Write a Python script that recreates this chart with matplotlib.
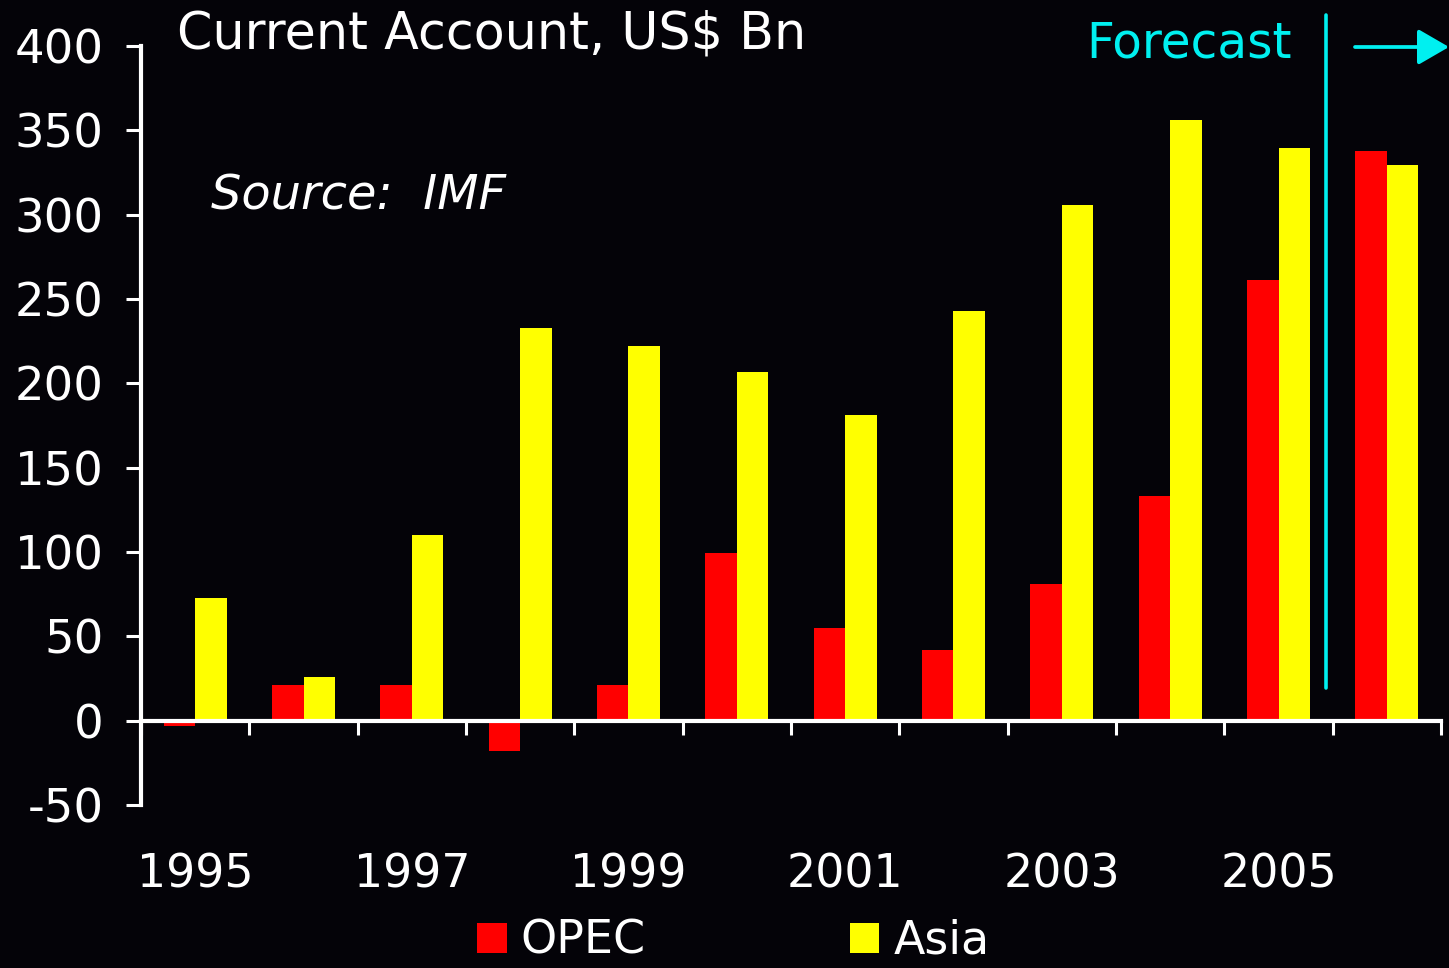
import matplotlib
matplotlib.use('Agg')
import matplotlib.pyplot as plt
import numpy as np

# ----------------- Data -----------------
years = list(range(1995, 2007))
opec = [-3, 21, 21, -18, 21, 99.5, 55, 42, 81, 133, 261, 337.5]
asia = [73, 26, 110, 233, 222, 207, 181, 243, 306, 356, 339.5, 329.5]
year_labels = [str(y) if (y - 1995) % 2 == 0 else "" for y in years]
yticks = [-50, 0, 50, 100, 150, 200, 250, 300, 350, 400]

BG = '#040308'
RED = '#FF0000'
YELLOW = '#FFFF00'
CYAN = '#00F0F0'

W, H = 1449, 968
fig = plt.figure(figsize=(W / 100, H / 100), dpi=100, facecolor=BG)
ax = fig.add_axes([141 / W, (H - 805) / H, 1300 / W, (805 - 46) / H])
ax.set_facecolor(BG)

x = np.arange(len(years))
bw = 0.29
ax.bar(x - bw / 2, opec, width=bw, color=RED, label='OPEC', zorder=2)
ax.bar(x + bw / 2, asia, width=bw, color=YELLOW, label='Asia', zorder=2)

ax.set_xlim(-0.5, len(years) - 0.5)
ax.set_ylim(-50, 400)

# spines
for s in ['top', 'right']:
    ax.spines[s].set_visible(False)
ax.spines['bottom'].set_position(('data', 0))
ax.spines['bottom'].set_color('white')
ax.spines['left'].set_color('white')
ax.spines['bottom'].set_linewidth(3)
ax.spines['left'].set_linewidth(3)
ax.spines['bottom'].set_zorder(3)

# y ticks
ax.set_yticks(yticks)
ax.set_yticklabels([str(v) for v in yticks])
ax.tick_params(axis='y', direction='out', length=11, width=2.2, color='white',
               labelcolor='white', labelsize=33.5, pad=16)

# x ticks: marks at boundaries, labels at group centres
ax.set_xticks(np.arange(-0.5, len(years)), minor=True)
ax.set_xticks(x)
ax.set_xticklabels(year_labels)
ax.tick_params(axis='x', which='minor', direction='out', length=10, width=2.2,
               color='white')
ax.tick_params(axis='x', which='major', length=0, labelcolor='white',
               labelsize=33, pad=95)

# forecast divider
ax.plot([10.44, 10.44], [19.5, 418.5], color=CYAN, lw=2.6, clip_on=False,
        solid_capstyle='round', zorder=4)
fig.text(1086 / W, 1 - 57 / H, 'Forecast', color=CYAN, fontsize=35,
         ha='left', va='baseline')
ax.annotate('', xy=(1449, H - 47), xytext=(1355, H - 47),
            xycoords='figure pixels', textcoords='figure pixels',
            arrowprops=dict(arrowstyle='-|>,head_length=0.95,head_width=0.55',
                            mutation_scale=20, lw=2.7, color=CYAN,
                            shrinkA=0, shrinkB=0))

# titles
fig.text(177 / W, 1 - 48 / H, 'Current Account, US$ Bn', color='white',
         fontsize=36.5, ha='left', va='baseline')
fig.text(211 / W, 1 - 210 / H, 'Source:  IMF', color='white', fontsize=34.5,
         style='italic', ha='left', va='baseline')

# legend
leg = fig.legend(loc='upper left', bbox_to_anchor=(477 / W, 1 - 919 / H),
                 ncol=2, frameon=False, fontsize=33, borderpad=0,
                 borderaxespad=0, handlelength=0.65, handleheight=0.65,
                 handletextpad=0.3, columnspacing=4.45)
for t in leg.get_texts():
    t.set_color('white')

plt.savefig('out.png', dpi=100, facecolor=BG)
plt.close()
